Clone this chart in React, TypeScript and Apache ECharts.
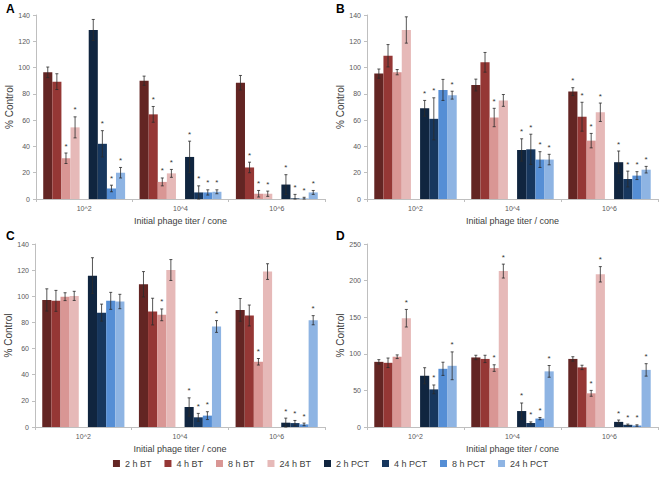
import React, { useEffect, useRef } from "react";
import * as echarts from "echarts";

const CATEGORIES = ["10^2", "10^4", "10^6"];
const SERIES_NAMES = ["2 h BT", "4 h BT", "8 h BT", "24 h BT", "2 h PCT", "4 h PCT", "8 h PCT", "24 h PCT"];
const COLORS = ["#632523", "#953735", "#d99694", "#e6b9b8", "#10253f", "#17375e", "#558ed5", "#8eb4e3"];

// Panel A: values per series across the 3 categories
const valuesA = [
  [96.4, 90, 88.5], [89.3, 64.4, 24], [31, 13, 4], [54.5, 19.5, 4],
  [128.6, 32, 11], [42, 5, 0.5], [8, 5, 0.3], [20, 5.5, 5],
];
const errorsA = [
  [4, 3.5, 5.5], [6, 6, 4], [4, 3, 2.5], [8, 3, 2],
  [8, 12, 7.5], [10, 5, 3], [2.5, 2, 1], [4, 1.5, 1.5],
];
const starsA = [
  [0, 0, 0], [0, 1, 1], [1, 1, 1], [1, 1, 1],
  [0, 1, 1], [1, 1, 1], [1, 1, 1], [1, 1, 1],
];

// Panel B
const valuesB = [
  [95.4, 86.7, 81.7], [109, 104, 62.6], [96.5, 62, 44.4], [128.6, 75, 66],
  [69, 37.3, 28], [61, 37.8, 15.2], [83, 30, 17.8], [79, 30, 22.3],
];
const errorsB = [
  [3.5, 4.5, 3], [8.5, 7.5, 11], [2, 7, 5.5], [10, 4.5, 7],
  [6, 8.5, 8.5], [16, 11.5, 6], [8, 6, 3], [3, 4, 2.5],
];
const starsB = [
  [0, 0, 1], [0, 0, 1], [0, 1, 1], [0, 0, 1],
  [1, 1, 1], [1, 1, 1], [0, 1, 1], [1, 1, 1],
];

// Panel C
const valuesC = [
  [97.2, 109.2, 89.6], [96.5, 88.3, 85.3], [99.7, 85.8, 49.9], [100.3, 120.1, 118.9],
  [115.8, 15.3, 3.3], [87.5, 7.4, 3], [96.5, 8.7, 2], [96, 76.9, 81.7],
];
const errorsC = [
  [8.5, 9.7, 8.7], [8, 10.2, 8], [3, 4.5, 2.5], [3.5, 8, 6],
  [13.7, 7, 3.5], [6.5, 3, 2], [6.5, 3, 1], [5.5, 4.5, 3.5],
];
const starsC = [
  [0, 0, 0], [0, 0, 0], [0, 1, 1], [0, 0, 0],
  [0, 1, 1], [0, 1, 1], [0, 1, 1], [0, 1, 1],
];

// Panel D
const valuesD = [
  [89, 95, 93], [87.7, 93, 81.4], [96, 80.5, 46], [148.6, 213, 208.6],
  [70, 21.8, 7], [51.4, 5.5, 3], [79.5, 11.5, 2], [83.6, 76, 78],
];
const errorsD = [
  [3, 3, 3], [6.5, 5, 3], [2.5, 4.5, 4], [12, 9.5, 10.5],
  [11, 11, 2.5], [6, 1.5, 1], [9, 1.5, 1], [19, 8, 8.5],
];
const starsD = [
  [0, 0, 0], [0, 0, 0], [0, 1, 1], [1, 1, 1],
  [0, 1, 1], [1, 1, 1], [0, 1, 1], [1, 1, 1],
];

const Y_MAX = [140, 140, 140, 250];
const Y_INTERVAL = [20, 20, 20, 50];
const LETTERS = ["A", "B", "C", "D"];

const CAT_GAP = 0.15;
const SLOTS = 9;

export default function App() {
  const ref = useRef<HTMLDivElement>(null);

  useEffect(() => {
    if (!ref.current) return;
    const chart = echarts.init(ref.current, null, { renderer: "svg" });

    const panels = [
      { vals: valuesA, errs: errorsA, stars: starsA, grid: { left: 36, top: 15, width: 289, height: 184 }, letter: [6, 3] },
      { vals: valuesB, errs: errorsB, stars: starsB, grid: { left: 367, top: 15, width: 291, height: 184 }, letter: [336, 3] },
      { vals: valuesC, errs: errorsC, stars: starsC, grid: { left: 35, top: 244, width: 290, height: 183 }, letter: [6, 230] },
      { vals: valuesD, errs: errorsD, stars: starsD, grid: { left: 367, top: 244, width: 291, height: 183 }, letter: [336, 230] },
    ];

    const grids: any[] = [];
    const xAxes: any[] = [];
    const yAxes: any[] = [];
    const series: any[] = [];
    const graphics: any[] = [];
    const axisColor = "#bfbfbf";
    const font = "Liberation Sans";

    panels.forEach((p, pi) => {
      grids.push({ ...p.grid, containLabel: false });
      xAxes.push({
        type: "category",
        gridIndex: pi,
        data: CATEGORIES,
        name: "Initial phage titer / cone",
        nameLocation: "middle",
        nameGap: 17,
        nameTextStyle: { fontSize: 9, color: "#404040", fontFamily: font },
        axisLine: { lineStyle: { color: axisColor } },
        axisTick: { show: true, length: 3, lineStyle: { color: axisColor } },
        axisLabel: { fontSize: 7, color: "#595959", fontFamily: font, margin: 6 },
        splitLine: { show: false },
      });
      yAxes.push({
        type: "value",
        gridIndex: pi,
        min: 0,
        max: Y_MAX[pi],
        interval: Y_INTERVAL[pi],
        name: "% Control",
        nameLocation: "middle",
        nameGap: 22,
        nameTextStyle: { fontSize: 10, color: "#404040", fontFamily: font },
        axisLine: { show: true, lineStyle: { color: axisColor } },
        axisTick: { show: true, length: 3, lineStyle: { color: axisColor } },
        axisLabel: { fontSize: 7, color: "#595959", fontFamily: font, margin: 6 },
        splitLine: { show: false },
      });

      const errData: any[] = [];
      for (let s = 0; s < 8; s++) {
        const slot = s < 4 ? s : s + 1;
        if (s === 4) {
          series.push({
            type: "bar",
            name: "__gap",
            xAxisIndex: pi,
            yAxisIndex: pi,
            data: CATEGORIES.map(() => "-"),
            barGap: "0%",
            barCategoryGap: "15%",
          });
        }
        series.push({
          type: "bar",
          name: SERIES_NAMES[s],
          xAxisIndex: pi,
          yAxisIndex: pi,
          data: p.vals[s],
          barGap: "0%",
          barCategoryGap: "15%",
          itemStyle: { color: COLORS[s] },
        });
        for (let c = 0; c < CATEGORIES.length; c++) {
          errData.push([c, slot, p.vals[s][c], p.errs[s][c], p.stars[s][c]]);
        }
      }
      series.push({
        type: "custom",
        name: "errors" + pi,
        xAxisIndex: pi,
        yAxisIndex: pi,
        data: errData,
        encode: { x: 0, y: 2 },
        z: 10,
        silent: true,
        renderItem: (params: any, api: any) => {
          const cat = api.value(0);
          const slot = api.value(1);
          const v = api.value(2);
          const e = api.value(3);
          const star = api.value(4);
          const band = api.size([1, 0])[0];
          const bw = (band * (1 - CAT_GAP)) / SLOTS;
          const cx = api.coord([cat, 0])[0] + (slot - (SLOTS - 1) / 2) * bw;
          const yTop = api.coord([cat, v + e])[1];
          const yBot = api.coord([cat, Math.max(0, v - e)])[1];
          const cap = 1.5;
          const st = { stroke: "#2b2b2b", lineWidth: 0.8 };
          const children: any[] = [
            { type: "line", shape: { x1: cx, y1: yTop, x2: cx, y2: yBot }, style: st },
            { type: "line", shape: { x1: cx - cap, y1: yTop, x2: cx + cap, y2: yTop }, style: st },
            { type: "line", shape: { x1: cx - cap, y1: yBot, x2: cx + cap, y2: yBot }, style: st },
          ];
          if (star) {
            children.push({
              type: "text",
              x: cx,
              y: yTop - 3,
              style: {
                text: "*",
                fontSize: 8,
                fill: "#333",
                fontFamily: font,
                textAlign: "center",
                textVerticalAlign: "bottom",
              },
            });
          }
          return { type: "group", children };
        },
      });

      graphics.push({
        type: "text",
        left: p.letter[0],
        top: p.letter[1],
        style: { text: LETTERS[pi], fontSize: 12, fontWeight: "bold", fill: "#000", fontFamily: font },
      });
    });

    chart.setOption({
      animation: false,
      backgroundColor: "#ffffff",
      grid: grids,
      xAxis: xAxes,
      yAxis: yAxes,
      series,
      graphic: graphics,
      legend: {
        data: SERIES_NAMES,
        bottom: 5,
        left: "center",
        icon: "rect",
        itemWidth: 7,
        itemHeight: 7,
        itemGap: 13,
        textStyle: { fontSize: 9, color: "#404040", fontFamily: font },
        selectedMode: false,
      },
    });

    return () => chart.dispose();
  }, []);

  return (
    <div
      ref={ref}
      style={{ position: "fixed", left: 0, top: 0, width: 661, height: 478, background: "#fff" }}
    />
  );
}
